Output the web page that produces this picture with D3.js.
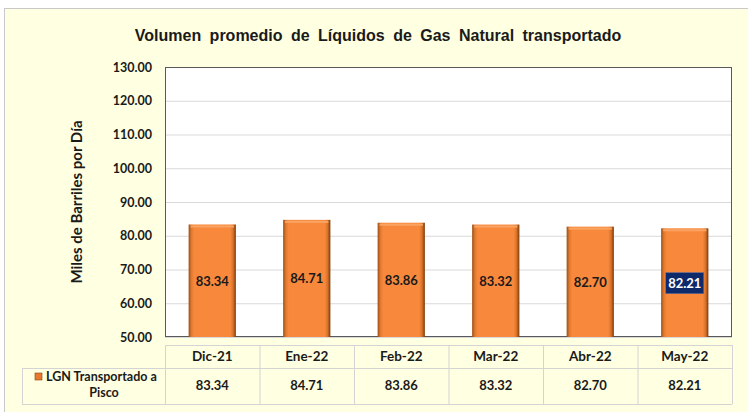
<!DOCTYPE html>
<html>
<head>
<meta charset="utf-8">
<script src="https://cdn.jsdelivr.net/npm/d3@7"></script>
<style>
  body { margin: 0; background: #fff; }
  svg text { font-family: Lato, "Open Sans", sans-serif; font-weight: bold; fill: #1a1a1a; }
</style>
</head>
<body>
<svg id="chart" width="748" height="412"></svg>
<script>
const categories = ['Dic-21', 'Ene-22', 'Feb-22', 'Mar-22', 'Abr-22', 'May-22']
const values = [83.34, 84.71, 83.86, 83.32, 82.70, 82.21]
const yTicks = [50, 60, 70, 80, 90, 100, 110, 120, 130]
const seriesName = ['LGN Transportado a', 'Pisco']
const highlightIndex = 5

const svg = d3.select('#chart')
const margin = { top: 67, right: 16, bottom: 75, left: 165 }
const width = 748, height = 412
const tableLeft = 22

// background panel
svg.append('rect').attr('x', 4.5).attr('y', 8.5).attr('width', 760).attr('height', 420)
    .attr('fill', '#FFFFE1').attr('stroke', '#C9C9C9')

const defs = svg.append('defs')
const grad = defs.append('linearGradient').attr('id', 'barGrad').attr('x1', 0).attr('x2', 1).attr('y1', 0).attr('y2', 0)
grad.append('stop').attr('offset', '0%').attr('stop-color', '#9E4E15')
grad.append('stop').attr('offset', '6%').attr('stop-color', '#E07A30')
grad.append('stop').attr('offset', '12%').attr('stop-color', '#F8893C')
grad.append('stop').attr('offset', '88%').attr('stop-color', '#F8893C')
grad.append('stop').attr('offset', '94%').attr('stop-color', '#D87229')
grad.append('stop').attr('offset', '100%').attr('stop-color', '#7A3A0C')

const xScale = d3.scaleBand().domain(categories).range([margin.left, width - margin.right]).paddingInner(0.5).paddingOuter(0.25)
const colScale = d3.scaleBand().domain(categories).range([margin.left, width - margin.right])
const yScale = d3.scaleLinear().domain([50, 130]).range([height - margin.bottom, margin.top])

// title
svg.append('text').attr('x', 378).attr('y', 41).attr('text-anchor', 'middle')
    .style('font-family', '"Liberation Sans", Arial, sans-serif').style('font-size', '16px')
    .style('word-spacing', '4px')
    .text('Volumen promedio de Líquidos de Gas Natural transportado')

// plot area
svg.append('rect').attr('x', margin.left).attr('y', margin.top)
    .attr('width', width - margin.right - margin.left).attr('height', height - margin.bottom - margin.top)
    .attr('fill', '#fff')

const grid = svg.append('g')
    .attr('transform', `translate(${ margin.left },0)`)
    .call(d3.axisLeft(yScale).tickValues(yTicks).tickSize(-(width - margin.right - margin.left)).tickFormat(''))
grid.select('.domain').remove()
grid.selectAll('line').attr('stroke', '#D9D9D9')

svg.append('rect').attr('x', margin.left + 0.5).attr('y', margin.top + 0.5)
    .attr('width', width - margin.right - margin.left - 1).attr('height', height - margin.bottom - margin.top - 1)
    .attr('fill', 'none').attr('stroke', '#595959')

// y tick labels
const yAxis = svg.append('g')
    .attr('transform', `translate(${ margin.left - 13 },0)`)
    .call(d3.axisLeft(yScale).tickValues(yTicks).tickSize(0).tickPadding(0).tickFormat(d3.format('.2f')))
yAxis.select('.domain').remove()
yAxis.selectAll('text').style('font-size', '12.5px').style('font-family', 'Lato, sans-serif').attr('fill', '#1a1a1a')

svg.append('text').attr('transform', `translate(82,${ (margin.top + height - margin.bottom) / 2 }) rotate(-90)`)
    .attr('text-anchor', 'middle').style('font-size', '15px')
    .text('Miles de Barriles por Día')

// bars
const bars = svg.append('g')
bars.selectAll('rect.bar').data(values).join('rect')
    .attr('class', 'bar')
    .attr('x', (d, i) => xScale(categories[i]))
    .attr('y', d => yScale(d))
    .attr('width', xScale.bandwidth())
    .attr('height', d => yScale(50) - yScale(d))
    .attr('fill', 'url(#barGrad)')
bars.selectAll('rect.top').data(values).join('rect')
    .attr('class', 'top')
    .attr('x', (d, i) => xScale(categories[i]) + 2)
    .attr('y', d => yScale(d) + 1)
    .attr('width', xScale.bandwidth() - 4)
    .attr('height', 2)
    .attr('fill', '#F9A463')

// bar labels
values.forEach((v, i) => {
    const cx = xScale(categories[i]) + xScale.bandwidth() / 2
    const cy = (yScale(v) + yScale(50)) / 2
    if (i === highlightIndex) {
        svg.append('rect').attr('x', cx - 19).attr('y', cy - 10).attr('width', 38).attr('height', 21)
            .attr('fill', '#0F2A6B').attr('stroke', '#5A6FA8').attr('stroke-width', 0.5)
    }
    svg.append('text').attr('x', cx).attr('y', cy + 5).attr('text-anchor', 'middle')
        .style('font-size', '13px')
        .style('fill', i === highlightIndex ? '#fff' : '#1a1a1a')
        .text(v.toFixed(2))
})

// data table
const headerTop = height - margin.bottom + 8
const rowMid = headerTop + 23
const rowBottom = rowMid + 36
const tbl = svg.append('g').attr('stroke', '#D4D4D4').attr('fill', 'none')
tbl.append('line').attr('x1', margin.left).attr('x2', width - margin.right).attr('y1', headerTop + 0.5).attr('y2', headerTop + 0.5)
tbl.append('line').attr('x1', tableLeft).attr('x2', width - margin.right).attr('y1', rowMid + 0.5).attr('y2', rowMid + 0.5)
tbl.append('line').attr('x1', tableLeft).attr('x2', width - margin.right).attr('y1', rowBottom + 0.5).attr('y2', rowBottom + 0.5)
tbl.append('line').attr('x1', tableLeft + 0.5).attr('x2', tableLeft + 0.5).attr('y1', rowMid).attr('y2', rowBottom)
categories.forEach(c => {
    tbl.append('line').attr('x1', colScale(c) + 0.5).attr('x2', colScale(c) + 0.5).attr('y1', headerTop).attr('y2', rowBottom)
})
tbl.append('line').attr('x1', width - margin.right + 0.5).attr('x2', width - margin.right + 0.5).attr('y1', headerTop).attr('y2', rowBottom)

svg.append('g').selectAll('text').data(categories).join('text')
    .attr('x', d => colScale(d) + colScale.bandwidth() / 2)
    .attr('y', headerTop + 16)
    .attr('text-anchor', 'middle').style('font-size', '13.5px')
    .text(d => d)

svg.append('g').selectAll('text').data(values).join('text')
    .attr('x', (d, i) => colScale(categories[i]) + colScale.bandwidth() / 2)
    .attr('y', rowMid + 22)
    .attr('text-anchor', 'middle').style('font-size', '13px')
    .text(d => d.toFixed(2))

svg.append('rect').attr('x', 35).attr('y', rowMid + 5).attr('width', 7).attr('height', 7).attr('fill', '#E8782E').attr('stroke', '#8A4513').attr('stroke-width', 0.6)
svg.append('text').attr('x', 46).attr('y', rowMid + 13).style('font-size', '12.5px').text(seriesName[0])
svg.append('text').attr('x', 104).attr('y', rowMid + 29).attr('text-anchor', 'middle').style('font-size', '12.5px').text(seriesName[1])
</script>
</body>
</html>
